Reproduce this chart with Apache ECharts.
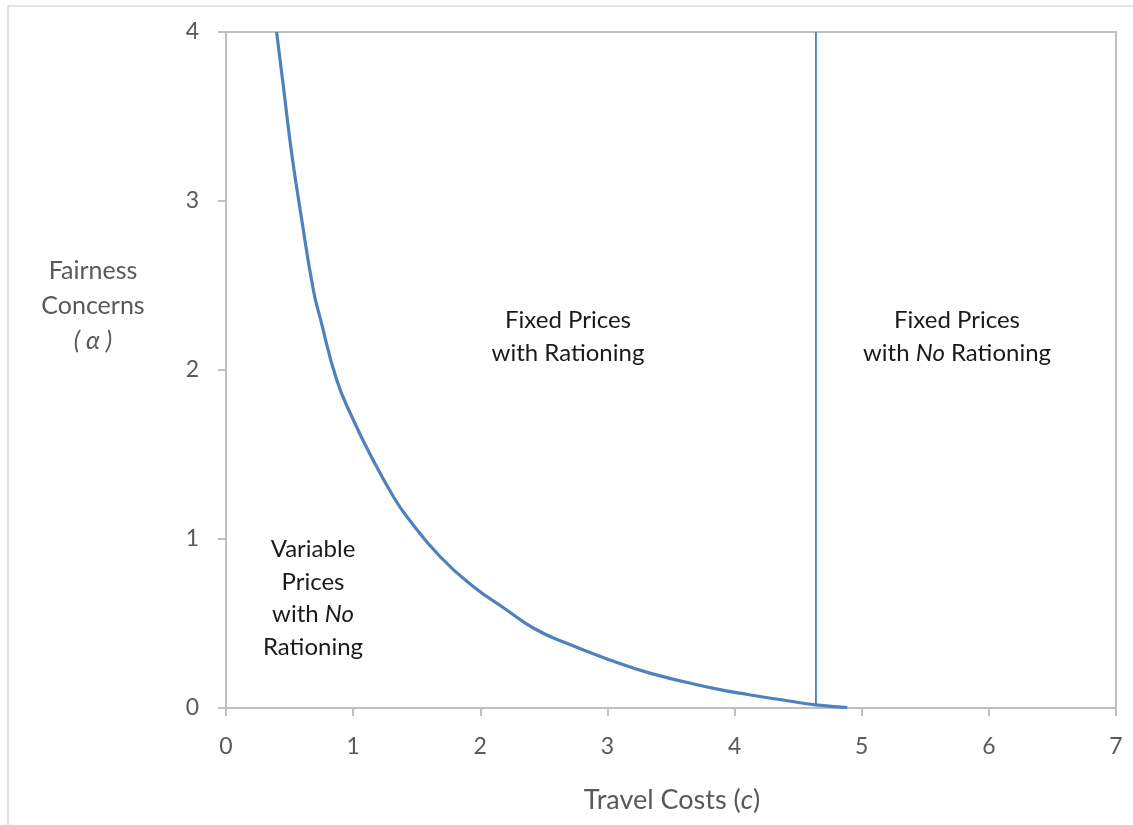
<!DOCTYPE html>
<html><head><meta charset="utf-8">
<script src="https://cdn.jsdelivr.net/npm/echarts@6/dist/echarts.min.js"></script>
<style>html,body{margin:0;padding:0;background:#fff}#c{width:1133px;height:825px}</style>
</head><body><div id="c"></div>
<script>
// Boundary curve: travel cost c vs fairness concern alpha
const curveC = [0.398, 0.451, 0.517, 0.596, 0.688, 0.74, 0.871, 1.002, 1.134, 1.317, 1.423, 1.685, 1.947, 2.18, 2.42, 2.68, 3.02, 3.34, 3.837, 4.126, 4.415, 4.638, 4.887];
const curveAlpha = [4.0, 3.68, 3.28, 2.888, 2.47, 2.31, 1.941, 1.704, 1.50, 1.25, 1.132, 0.895, 0.718, 0.595, 0.472, 0.383, 0.284, 0.205, 0.116, 0.077, 0.043, 0.018, 0.002];
// Vertical boundary
const vlineC = [4.64, 4.64];
const vlineAlpha = [0.02, 4.0];
const xTicks = [0, 1, 2, 3, 4, 5, 6, 7];
const yTicks = [0, 1, 2, 3, 4];

const font = 'Lato, "Open Sans", sans-serif';
const grey = '#595959';
const ink = '#1a1a1a';
const chart = echarts.init(document.getElementById('c'));
chart.setOption({
  animation: false,
  backgroundColor: '#fff',
  grid: { left: 226, top: 32, right: 17, bottom: 117, show: true, borderColor: '#C0C0C0', borderWidth: 2 },
  xAxis: {
    type: 'value', min: xTicks[0], max: xTicks[xTicks.length - 1], interval: 1,
    axisLine: { show: true, lineStyle: { color: '#C0C0C0', width: 2 } },
    axisTick: { show: true, length: 8, lineStyle: { color: '#C0C0C0', width: 2 } },
    splitLine: { show: false },
    axisLabel: { color: grey, fontSize: 23, fontFamily: font, margin: 27 }
  },
  yAxis: {
    type: 'value', min: yTicks[0], max: yTicks[yTicks.length - 1], interval: 1,
    axisLine: { show: true, lineStyle: { color: '#C0C0C0', width: 2 } },
    axisTick: { show: true, length: 8, lineStyle: { color: '#C0C0C0', width: 2 } },
    splitLine: { show: false },
    axisLabel: { color: grey, fontSize: 23, fontFamily: font, margin: 27 }
  },
  series: [
    { type: 'line', data: curveC.map((c, i) => [c, curveAlpha[i]]), smooth: 0.5, showSymbol: false,
      lineStyle: { color: '#4F81BD', width: 3.2 } },
    { type: 'line', data: vlineC.map((c, i) => [c, vlineAlpha[i]]), showSymbol: false,
      lineStyle: { color: '#4A7EBB', width: 1.8 } }
  ],
  graphic: [
    { type: 'rect', shape: { x: 8, y: 6, width: 1140, height: 840 }, style: { fill: null, stroke: '#D9D9D9', lineWidth: 1.5 }, z: -1 },
    { type: 'text', style: { x: 93, y: 306, text: 'Fairness\nConcerns\n{i|( α )}', textAlign: 'center', textVerticalAlign: 'middle', fill: grey, fontSize: 25, fontFamily: font, lineHeight: 35,
      rich: { i: { fontStyle: 'italic', fontSize: 25, fontFamily: font, fill: grey, lineHeight: 35 } } } },
    { type: 'text', style: { x: 672, y: 800, text: 'Travel Costs ({i|c})', textAlign: 'center', textVerticalAlign: 'middle', fill: grey, fontSize: 27, fontFamily: font,
      rich: { i: { fontStyle: 'italic', fontSize: 27, fontFamily: font, fill: grey } } } },
    { type: 'text', style: { x: 568, y: 336.5, text: 'Fixed Prices\nwith Rationing', textAlign: 'center', textVerticalAlign: 'middle', fill: ink, fontSize: 24, fontFamily: font, lineHeight: 33 } },
    { type: 'text', style: { x: 957, y: 336.5, text: 'Fixed Prices\nwith {i|No} Rationing', textAlign: 'center', textVerticalAlign: 'middle', fill: ink, fontSize: 24, fontFamily: font, lineHeight: 33,
      rich: { i: { fontStyle: 'italic', fontSize: 24, fontFamily: font, fill: ink, lineHeight: 33 } } } },
    { type: 'text', style: { x: 313, y: 598.5, text: 'Variable\nPrices\nwith {i|No}\nRationing', textAlign: 'center', textVerticalAlign: 'middle', fill: ink, fontSize: 24, fontFamily: font, lineHeight: 32.5,
      rich: { i: { fontStyle: 'italic', fontSize: 24, fontFamily: font, fill: ink, lineHeight: 32.5 } } } }
  ]
});
</script></body></html>
